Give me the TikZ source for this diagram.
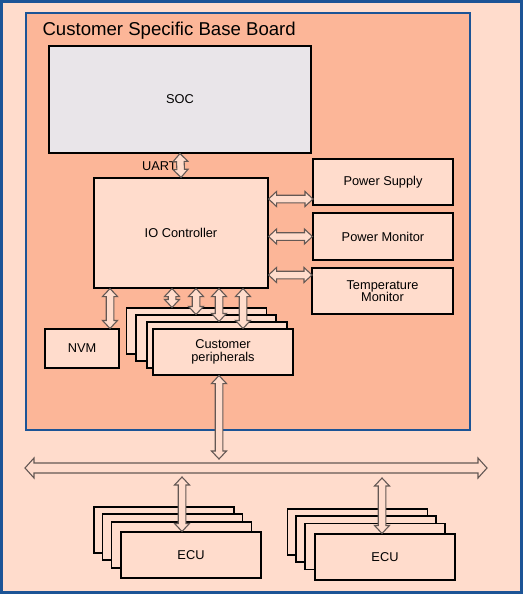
\documentclass[tikz,border=0pt]{standalone}
\usepackage{fontspec}
\setmainfont{Liberation Sans}
\usetikzlibrary{calc}
\definecolor{lightpeach}{RGB}{255,220,204}
\definecolor{boardpeach}{RGB}{252,182,152}
\definecolor{frameblue}{RGB}{28,84,150}
\definecolor{socgrey}{RGB}{233,229,233}
\definecolor{arrowgrey}{RGB}{100,88,84}
\begin{document}
\begin{tikzpicture}[x=1pt,y=-1pt,
  box/.style={draw,fill=lightpeach,line width=1.1pt,minimum width=140pt,minimum height=46pt,align=center,font=\fontsize{12.8}{14.5}\selectfont},
  dblarrow/.style={draw=arrowgrey,fill=lightpeach,line width=1.1pt,line join=miter,
    /utils/exec={\def\arrsw{3.8pt}\def\arrhw{7.5pt}\def\arrhl{8pt}},
    to path={
      -- ($(\tikztostart)!\arrhl!(\tikztotarget)!\arrhw!90:(\tikztotarget)$)
      -- ($(\tikztostart)!\arrhl!(\tikztotarget)!\arrsw!90:(\tikztotarget)$)
      -- ($(\tikztotarget)!\arrhl!(\tikztostart)!\arrsw!-90:(\tikztostart)$)
      -- ($(\tikztotarget)!\arrhl!(\tikztostart)!\arrhw!-90:(\tikztostart)$)
      -- (\tikztotarget)
      -- ($(\tikztotarget)!\arrhl!(\tikztostart)!\arrhw!90:(\tikztostart)$)
      -- ($(\tikztotarget)!\arrhl!(\tikztostart)!\arrsw!90:(\tikztostart)$)
      -- ($(\tikztostart)!\arrhl!(\tikztotarget)!\arrsw!-90:(\tikztotarget)$)
      -- ($(\tikztostart)!\arrhl!(\tikztotarget)!\arrhw!-90:(\tikztotarget)$)
      -- cycle}},
  busarrow/.style={dblarrow,/utils/exec={\def\arrsw{5pt}\def\arrhw{10pt}\def\arrhl{9pt}}}]

\useasboundingbox (0,0) rectangle (523,594);
\draw[fill=lightpeach,draw=frameblue,line width=3pt] (1.5,1.5) rectangle (521.5,592.5);
\draw[fill=boardpeach,draw=frameblue,line width=2.4pt] (26,13) rectangle (470,430);
\node[anchor=west,font=\fontsize{18.6}{21}\selectfont] (title) at (39,31) {Customer Specific Base Board};

\node[box,fill=socgrey,minimum width=262pt,minimum height=107pt] (soc) at (180,99.5) {SOC};
\node[box,minimum width=174pt,minimum height=110pt] (io) at (181,233) {IO Controller};
\node[anchor=east,font=\fontsize{12.8}{14.5}\selectfont,inner sep=0pt] (uart) at (177,166) {UART};

\node[box] (ps) at (383,182) {Power Supply};
\node[box,minimum height=47pt] (pm) at (383,236.5) {Power Monitor};
\node[box,minimum width=141pt] (tm) at (382.5,291) {Temperature\\[-2pt]Monitor};
\node[box,minimum width=74pt,minimum height=39pt] (nvm) at (82,348.5) {NVM};

\node[box] (per1) at (196.5,331) {};
\node[box] (per2) at (206,338) {};
\node[box] (per3) at (217,345) {};
\node[box] (per4) at (223,352) {Customer\\[-2pt]peripherals};

\foreach \x/\y [count=\i] in {164/530,172.5/537,181.5/545}
  \node[box] (ecua\i) at (\x,\y) {};
\node[box] (ecua4) at (191,555) {ECU};
\foreach \x/\y [count=\i] in {357.5/532,366/539,375/546.5}
  \node[box] (ecub\i) at (\x,\y) {};
\node[box] (ecub4) at (385,557) {ECU};

\coordinate (psin) at (313,199);
\coordinate (tmin) at (312,275);
\coordinate (busL) at (25,468);
\coordinate (busR) at (487,468);
\coordinate (bustop) at (219,459);
\coordinate (busa) at (182,477);
\coordinate (busb) at (382,478);

\draw[dblarrow] (soc.south) to (io.north);
\draw[dblarrow] (io.east |- psin) to (psin);
\draw[dblarrow] (io.east |- pm.west) to (pm.west);
\draw[dblarrow] (io.east |- tmin) to (tmin);
\draw[dblarrow] (io.south -| 110,0) to (nvm.north -| 110,0);
\foreach \x/\b in {172/per1,196/per2,219/per3,243/per4}
  \draw[dblarrow] (io.south -| \x,0) to (\b.north -| \x,0);

\draw[busarrow] (busL) to (busR);
\draw[dblarrow] (per4.south -| bustop) to (bustop);
\draw[dblarrow] (busa) to (ecua4.north -| busa);
\draw[dblarrow] (busb) to (ecub4.north -| busb);
\end{tikzpicture}
\end{document}
